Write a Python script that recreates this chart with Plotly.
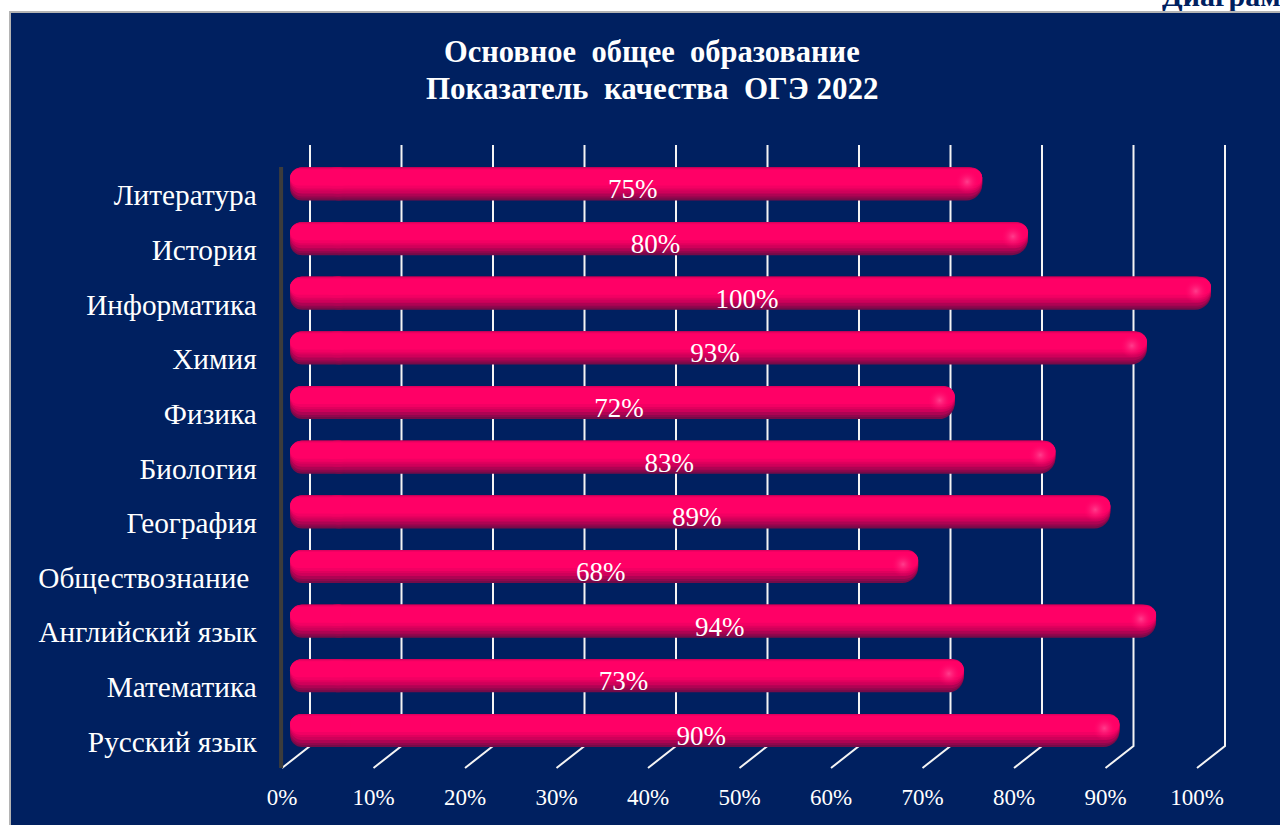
import plotly.graph_objects as go

categories = ["Русский язык", "Математика", "Английский язык", "Обществознание\u00a0", "География",
              "Биология", "Физика", "Химия", "Информатика", "История", "Литература"]
quality = [90, 73, 94, 68, 89, 83, 72, 93, 100, 80, 75]
x_ticks = [0, 10, 20, 30, 40, 50, 60, 70, 80, 90, 100]
x_tick_labels = [f"{t}%" for t in x_ticks]
title_lines = ["Основное\u00a0 общее\u00a0 образование", "Показатель\u00a0 качества\u00a0 ОГЭ 2022"]
corner_text = "Диаграмма"

W, H = 1280, 825
PX_PER_PCT = 9.15
PX_PER_ROW = 54.65
ZERO_X = 296
ROW0_Y = 730.5
X_RANGE = (-2, 105)
Y_RANGE = (-0.8, 10.8)
DX = 14 / PX_PER_PCT
rows = list(range(len(categories)))
BAR_H = 33
Y_FRONT = (ROW0_Y - 768) / PX_PER_ROW
Y_BACK_LOW = (ROW0_Y - 746) / PX_PER_ROW
Y_BACK_TOP = (ROW0_Y - 145) / PX_PER_ROW
Y_WALL_TOP = (ROW0_Y - 167) / PX_PER_ROW
CAP_START = -0.65
CAP_END = 6
BODY_START = 3

fig = go.Figure()

# cylinder shading: (inset from top px, inset from bottom px, colour)
layers = [
    (0, 0, "#750b48"),
    (0, 2, "#8f074d"),
    (0, 4, "#ae0353"),
    (0, 7, "#cf005a"),
    (0, 10, "#e0005d"),
    (1, 12, "#f20063"),
    (2, 15, "#ff0066"),
]
for top, bottom, colour in layers:
    h = (BAR_H - top - bottom) / PX_PER_ROW
    off = (-BAR_H / 2 + bottom) / PX_PER_ROW
    # long body, ending in a full half-round at the value
    fig.add_bar(y=rows, base=[BODY_START] * len(rows), x=[v - BODY_START for v in quality], orientation="h",
                width=h, offset=off, marker=dict(color=colour, line_width=0),
                hoverinfo="skip", showlegend=False)
    # flatter rounding at the start of the bar
    fig.add_bar(y=rows, base=[CAP_START] * len(rows), x=[CAP_END - CAP_START] * len(rows), orientation="h",
                width=h, offset=off, marker=dict(color=colour, line_width=0, cornerradius=12),
                hoverinfo="skip", showlegend=False)

# highlight on the rounded bar end
fig.add_scatter(x=[v - 1.65 for v in quality], y=[r + 0.04 for r in rows], mode="markers",
                marker=dict(size=24, color="rgba(255,0,102,0)", line_width=0,
                            gradient=dict(type="radial", color="#ff3d8c")),
                hoverinfo="skip", showlegend=False)

# value labels
fig.add_scatter(x=[v / 2 - 0.7 for v in quality], y=[r - 0.14 for r in rows], mode="text",
                text=[f"{v}%" for v in quality], textposition="middle center",
                textfont=dict(family="Liberation Serif", size=27, color="#ffffff"),
                hoverinfo="skip", showlegend=False)

# cut-off heading above the panel, clipped by its own small subplot
fig.add_scatter(x=[0], y=[1.2], xaxis="x2", yaxis="y2", mode="text", text=[corner_text],
                textposition="middle right", cliponaxis=True,
                textfont=dict(family="Liberation Serif", size=30, color="#002060", weight="bold"),
                hoverinfo="skip", showlegend=False)

shapes = [
    dict(type="rect", xref="paper", yref="paper", x0=10 / W, x1=1.01, y0=-0.01, y1=1 - 12 / H,
         fillcolor="#002060", line=dict(color="#b4b4b4", width=2), layer="below"),
]
for t in x_ticks:
    path = f"M {t - DX} {Y_FRONT} L {t + DX} {Y_BACK_LOW} L {t + DX} {Y_BACK_TOP}"
    shapes.append(dict(type="path", xref="x", yref="y", layer="below", path=path,
                       line=dict(color="#f4f4f4", width=2)))
# left wall
shapes.append(dict(type="line", xref="x", yref="y", layer="below",
                   x0=-DX - 0.1, x1=-DX - 0.1, y0=Y_FRONT, y1=Y_WALL_TOP,
                   line=dict(color="#3c3c3c", width=4)))

annotations = [
    dict(text=line, xref="paper", yref="paper", x=652 / W, y=1 - yc / H, xanchor="center", yanchor="middle",
         showarrow=False, font=dict(family="Liberation Serif", size=size, color="#ffffff", weight="bold"))
    for line, yc, size in zip(title_lines, [52, 88], [30.5, 31])
]

fig.update_layout(
    width=W, height=H, margin=dict(l=0, r=0, t=0, b=0, autoexpand=False),
    paper_bgcolor="#ffffff", plot_bgcolor="rgba(0,0,0,0)",
    barmode="overlay", barcornerradius="50%", showlegend=False, shapes=shapes, annotations=annotations,
    xaxis=dict(range=list(X_RANGE),
               domain=[(ZERO_X + X_RANGE[0] * PX_PER_PCT) / W, (ZERO_X + X_RANGE[1] * PX_PER_PCT) / W],
               tickvals=x_ticks, ticktext=x_tick_labels, showgrid=False, zeroline=False, showline=False,
               ticks="", ticklabelshift=-14, ticklabelstandoff=7,
               tickfont=dict(family="Liberation Serif", size=23, color="#ffffff")),
    yaxis=dict(range=list(Y_RANGE),
               domain=[1 - (ROW0_Y - Y_RANGE[0] * PX_PER_ROW) / H, 1 - (ROW0_Y - Y_RANGE[1] * PX_PER_ROW) / H],
               tickvals=rows, ticktext=categories, showgrid=False, zeroline=False, showline=False,
               ticks="", ticklabelshift=11, ticklabelstandoff=20,
               tickfont=dict(family="Liberation Serif", size=29.3, color="#ffffff")),
    xaxis2=dict(range=[0, 1], domain=[1162 / W, 1], visible=False, anchor="y2"),
    yaxis2=dict(range=[-1, 1], domain=[1 - 11 / H, 1], visible=False, anchor="x2"),
)

fig.write_html("out.html", config={"displayModeBar": False},
               post_script="document.body.style.margin='0';document.documentElement.style.overflow='hidden';")
